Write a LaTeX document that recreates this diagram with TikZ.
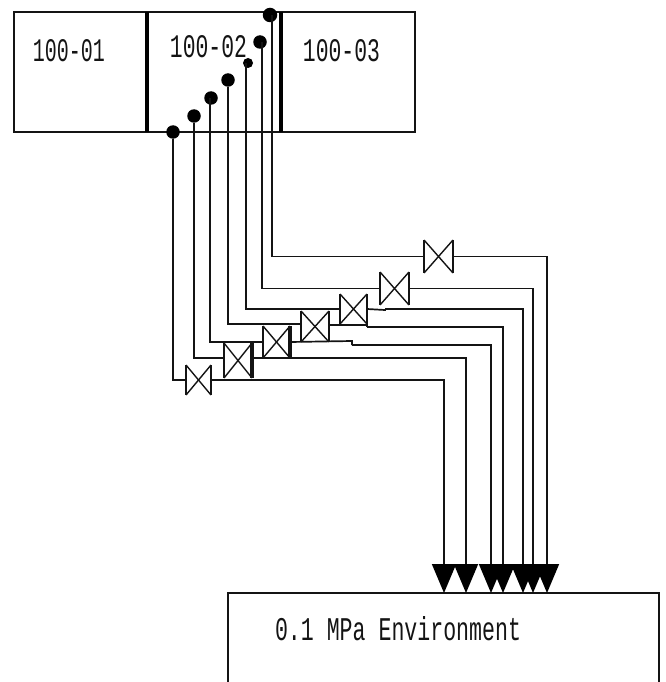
\documentclass[tikz,border=0pt]{standalone}
\usepackage{graphicx}
\usepackage{fontspec}
\setmainfont{Liberation Mono}
\usetikzlibrary{arrows.meta}
\definecolor{ink}{gray}{0.08}
\tikzset{
  pipe/.style={draw=ink,line width=1.7pt},
  outlet/.style={pipe,-{Triangle[width=24pt,length=29pt,color=black]}},
  tapdot/.style={circle,fill=black,inner sep=0pt,minimum size=13.5pt},
  unitbox/.style={draw=ink,line width=1.7pt,inner sep=0pt},
  divider/.style={draw=black,line width=3.4pt},
  valvebox/.style={inner sep=0pt,outer sep=0pt},
  bow/.style={draw=ink,line width=1.4pt},
  lbl/.style={inner sep=0pt,text=ink},
}
\newcommand{\valvemark}[2][1.4pt]{%
  \draw[bow] (#2.north west) -- (#2.south east);
  \draw[bow] (#2.south west) -- (#2.north east);
  \draw[bow] (#2.north west) -- (#2.south west);
  \draw[bow,line width=#1] (#2.north east) -- (#2.south east);
}
\begin{document}
\begin{tikzpicture}[x=1pt,y=-1pt]
\useasboundingbox (0,0) rectangle (665,682);
% vessels
\node[unitbox,minimum width=401pt,minimum height=120pt] (vessel) at (214.5,72) {};
\draw[divider] (147,12) -- (147,132);
\draw[divider] (281,12) -- (281,132);
\node[lbl] (t1) at (69,50.5) {\resizebox{72pt}{22pt}{100-01}};
\node[lbl] (t2) at (208.5,46.5) {\resizebox{77pt}{22pt}{100-02}};
\node[lbl] (t3) at (341.5,50.5) {\resizebox{77pt}{22pt}{100-03}};
% environment (open at the bottom edge)
\coordinate (envTL) at (228,593);
\coordinate (envTR) at (659,593);
\coordinate (envBL) at (228,682);
\coordinate (envBR) at (659,682);
\draw[draw=ink,line width=1.7pt] (envBL) -- (envTL) -- (envTR) -- (envBR);
\node[lbl] (envt) at (398,629) {\resizebox{246pt}{24pt}{0.1 MPa Environment}};
% tap dots
\node[tapdot] (d1) at (173,132) {};
\node[tapdot] (d2) at (194,116) {};
\node[tapdot] (d3) at (211,98) {};
\node[tapdot] (d4) at (228,80) {};
\node[tapdot,minimum size=10pt] (d5) at (248,63) {};
\node[tapdot] (d6) at (260,42) {};
\node[tapdot,minimum size=14.5pt] (d7) at (270,15) {};
% valves
\node[valvebox,minimum width=25pt,minimum height=30pt] (v1) at (198.5,380) {};
\node[valvebox,minimum width=28pt,minimum height=35pt] (v2) at (238,360.5) {};
\node[valvebox,minimum width=27pt,minimum height=32pt] (v3) at (276.5,342) {};
\node[valvebox,minimum width=28pt,minimum height=31pt] (v4) at (315,326.5) {};
\node[valvebox,minimum width=27pt,minimum height=30pt] (v5) at (353.5,309) {};
\node[valvebox,minimum width=29pt,minimum height=33pt] (v6) at (394.5,288.5) {};
\node[valvebox,minimum width=29pt,minimum height=33pt] (v7) at (438.5,256.5) {};
\valvemark{v1}
\valvemark[3.4pt]{v2}
\valvemark[3.2pt]{v3}
\valvemark[2.2pt]{v4}
\valvemark{v5}
\valvemark{v6}
\valvemark{v7}
% outlets on the environment
\coordinate (a1) at (444,593);
\coordinate (a2) at (466,593);
\coordinate (a3) at (491,593);
\coordinate (a4) at (503,593);
\coordinate (a5) at (523,593);
\coordinate (a6) at (533,593);
\coordinate (a7) at (547,593);
% jogs
\coordinate (j3a) at (352,341);
\coordinate (j3b) at (352,345);
\coordinate (j4a) at (367,325);
\coordinate (j4b) at (367,327);
\coordinate (j5a) at (385,310);
\coordinate (j5b) at (385,309);
% inlets
\draw[pipe] (d1) |- (v1.west);
\draw[pipe] (d2) |- ([yshift=2.5pt]v2.west);
\draw[pipe] (d3) ++(-1,0) |- (v3.west);
\draw[pipe] (d4) |- ([yshift=2.5pt]v4.west);
\draw[pipe] (d5) ++(-2,0) |- (v5.west);
\draw[pipe] (d6) ++(2,0) |- (v6.west);
\draw[pipe] (d7) ++(2,0) |- (v7.west);
% outlets
\draw[outlet] (v1.east) -| (a1);
\draw[outlet] ([yshift=2.5pt]v2.east) -| (a2);
\draw[pipe] (v3.east) -- (j3a) -- (j3b);
\draw[outlet] (j3b) -| (a3);
\draw[pipe] ([yshift=1.5pt]v4.east) -- (j4a) -- (j4b);
\draw[outlet] (j4b) -| (a4);
\draw[pipe] (v5.east) -- (j5a) -- (j5b);
\draw[outlet] (j5b) -| (a5);
\draw[outlet] (v6.east) -| (a6);
\draw[outlet] (v7.east) -| (a7);
\end{tikzpicture}
\end{document}
